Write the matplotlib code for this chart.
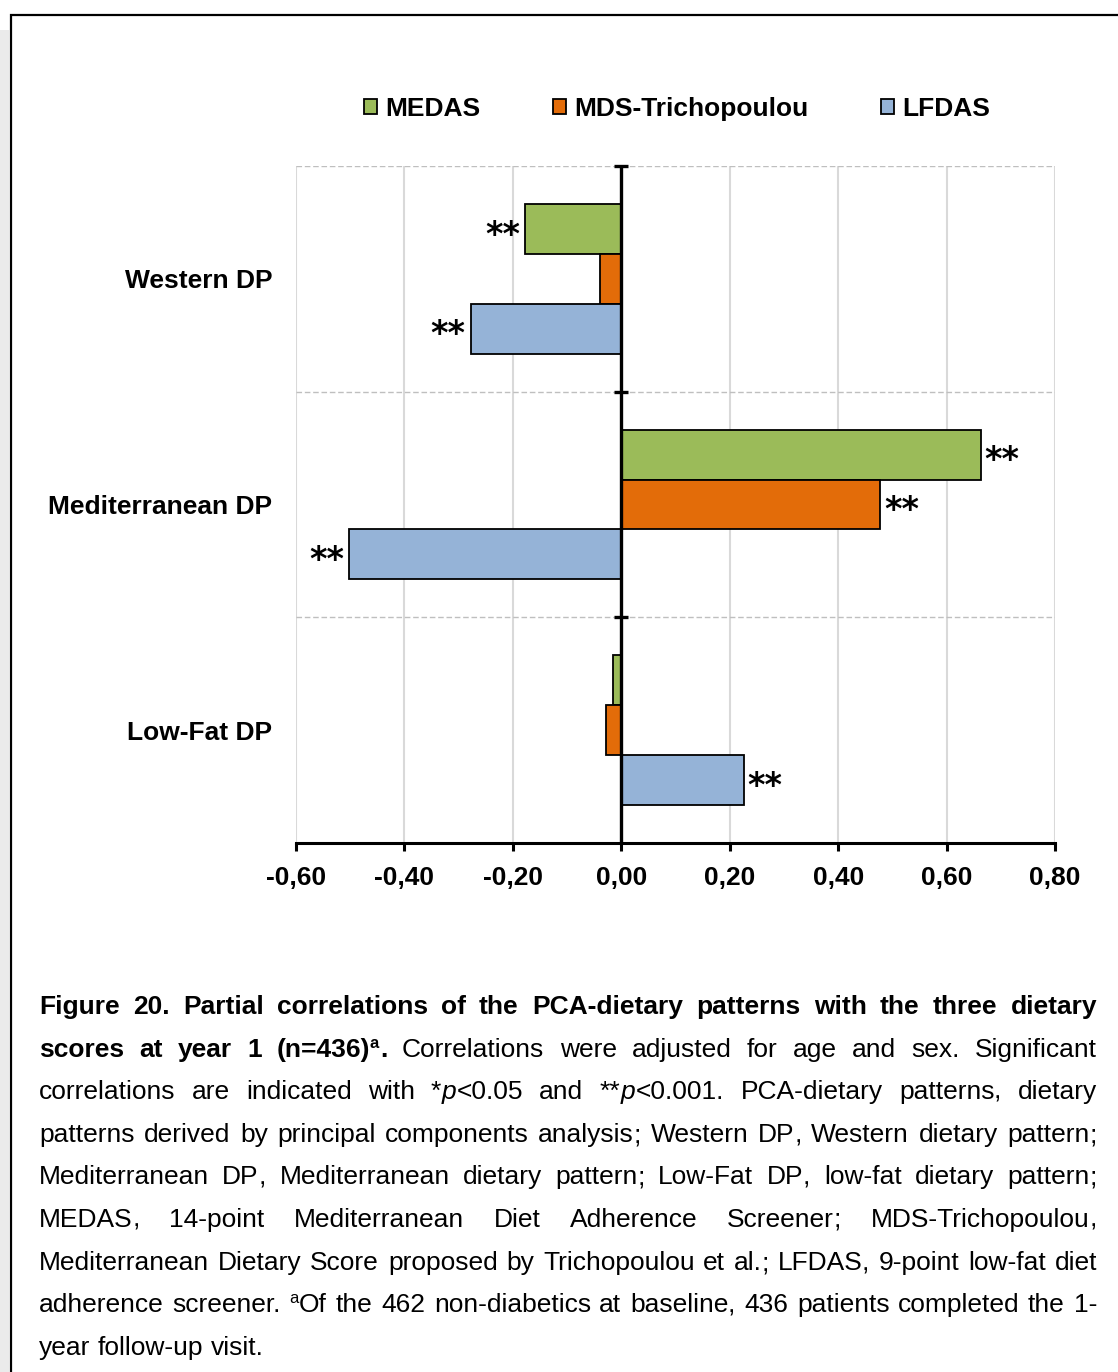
import re
import matplotlib
matplotlib.use("Agg")
import matplotlib.pyplot as plt
from matplotlib.patches import Rectangle
from matplotlib.ticker import FuncFormatter, FixedLocator
from matplotlib.font_manager import FontProperties
import numpy as np

plt.rcParams['font.family'] = ['Liberation Sans', 'DejaVu Sans']
plt.rcParams['axes.unicode_minus'] = False

# ---- data -------------------------------------------------------------
categories = ['Western DP', 'Mediterranean DP', 'Low-Fat DP']
series_names = ['MEDAS', 'MDS-Trichopoulou', 'LFDAS']
medas = [-0.177, 0.664, -0.016]
mds_trichopoulou = [-0.039, 0.478, -0.029]
lfdas = [-0.278, -0.502, 0.226]
sig_medas = ['**', '**', '']
sig_mds = ['', '**', '']
sig_lfdas = ['**', '**', '**']
x_ticks = [-0.6, -0.4, -0.2, 0.0, 0.2, 0.4, 0.6, 0.8]

colors = ['#9BBB59', '#E36C09', '#95B3D7']

# caption: (words, number of leading bold words, justified)
caption_lines = [
    ("Figure 20. Partial correlations of the PCA-dietary patterns with the three dietary", 99, True),
    ("scores at year 1 (n=436)^a. Correlations were adjusted for age and sex. Significant", 5, True),
    ("correlations are indicated with *_p_<0.05 and **_p_<0.001. PCA-dietary patterns, dietary", 0, True),
    ("patterns derived by principal components analysis; Western DP, Western dietary pattern;", 0, True),
    ("Mediterranean DP, Mediterranean dietary pattern; Low-Fat DP, low-fat dietary pattern;", 0, True),
    ("MEDAS, 14-point Mediterranean Diet Adherence Screener; MDS-Trichopoulou,", 0, True),
    ("Mediterranean Dietary Score proposed by Trichopoulou et al.; LFDAS, 9-point low-fat diet", 0, True),
    ("adherence screener. ^aOf the 462 non-diabetics at baseline, 436 patients completed the 1-", 0, True),
    ("year follow-up visit.", 0, False),
]

# ---- figure -----------------------------------------------------------
W, H = 1118, 1372
fig = plt.figure(figsize=(W / 100, H / 100), dpi=100)
fig.patch.set_facecolor('white')

def fx(px):
    return px / W

def fy(py):
    return 1 - py / H

# page strip and frame
fig.patches.append(Rectangle((0, 0), fx(9), fy(30), transform=fig.transFigure,
                             facecolor='#ebebeb', edgecolor='none', zorder=0))
fig.patches.append(Rectangle((fx(11), -0.1), 2, fy(14.5) + 0.1, transform=fig.transFigure,
                             facecolor='none', edgecolor='black', linewidth=1.6, zorder=1))

ax = fig.add_axes([fx(296), fy(843), fx(1055) - fx(296), fy(166) - fy(843)])
ax.set_facecolor('none')

y = np.arange(len(categories))
h = 0.221
offsets = [-h, 0.0, h]
all_vals = [medas, mds_trichopoulou, lfdas]
all_sig = [sig_medas, sig_mds, sig_lfdas]
containers = []
for vals, off, col, name in zip(all_vals, offsets, colors, series_names):
    bc = ax.barh(y + off, vals, height=h, color=col, edgecolor='black',
                 linewidth=1.3, label=name, zorder=3)
    containers.append(bc)

# significance marks
ast_fs = 24
for vals, sigs, off in zip(all_vals, all_sig, offsets):
    for yi, v, s in zip(y, vals, sigs):
        if not s:
            continue
        dx = 2.5 if v >= 0 else -3.5
        ax.annotate(s, xy=(v, yi + off), xytext=(dx, -0.56 * ast_fs + 2.2),
                    textcoords='offset points', ha='left' if v >= 0 else 'right',
                    va='baseline', fontsize=ast_fs, fontweight='bold',
                    family='DejaVu Sans', zorder=5)

ax.set_xlim(-0.6, 0.8)
ax.set_ylim(2.5, -0.5)

# x axis
ax.xaxis.set_major_locator(FixedLocator(x_ticks))
ax.xaxis.set_major_formatter(FuncFormatter(lambda v, p: f"{v:.2f}".replace('.', ',')))
ax.tick_params(axis='x', direction='out', length=6, width=2.2, pad=10.5,
               labelsize=19, colors='black')
for lab in ax.get_xticklabels():
    lab.set_fontweight('bold')
ax.spines['bottom'].set_linewidth(2.2)
ax.spines['bottom'].set_zorder(6)
for side in ['top', 'right', 'left']:
    ax.spines[side].set_visible(False)

# y axis: category labels on the left, boundaries as minor ticks
ax.set_yticks(y)
ax.set_yticklabels(categories, fontsize=19, fontweight='bold')
ax.yaxis.set_minor_locator(FixedLocator([-0.5, 0.5, 1.5]))
ax.tick_params(axis='y', which='both', length=0, pad=17)

# grid
ax.grid(axis='x', which='major', color='#d9d9d9', linewidth=1.5, zorder=0)
ax.grid(axis='y', which='minor', color='#bfbfbf', linewidth=1.0,
        linestyle=(0, (4, 2)), zorder=0)
ax.grid(axis='y', which='major', visible=False)
ax.set_axisbelow(True)

# zero line with crossing ticks at category boundaries
ax.axvline(0, color='black', linewidth=2.4, zorder=4)
ax.plot([0, 0, 0], [-0.5, 0.5, 1.5], linestyle='none', marker='_',
        markersize=10, markeredgewidth=2.4, color='black', zorder=4, clip_on=False)

# legend
fig.legend(handles=containers, labels=series_names, loc='center',
           bbox_to_anchor=(fx(677), fy(109)), ncol=3, frameon=False,
           prop={'size': 19, 'weight': 'bold'}, handlelength=0.5,
           handleheight=0.5, handletextpad=0.3, columnspacing=2.75)

# ---- caption (justified, word by word) ---------------------------------
renderer = fig.canvas.get_renderer()
cap_fs = 19
sup_fs = 12
left_px, right_px = 39, 1097
line_y0, line_step = 1005, 42.6

def split_word(word, bold):
    segs = []
    for part in re.split(r'(\^\w|_\w+_)', word):
        if not part:
            continue
        if part.startswith('^'):
            segs.append((part[1:], 'sup', bold))
        elif len(part) > 2 and part.startswith('_') and part.endswith('_'):
            segs.append((part[1:-1], 'it', bold))
        else:
            # trailing comma / semicolon drawn on its own so the word keeps
            # the same baseline as its neighbours
            m = re.match(r'^(.*?)([,;]+)$', part)
            if m and m.group(1):
                segs.append((m.group(1), 'norm', bold))
                segs.append((m.group(2), 'punct', bold))
            else:
                segs.append((part, 'norm', bold))
    return segs

def make_seg(text, kind, bold):
    fp = FontProperties(size=sup_fs if kind == 'sup' else cap_fs,
                        weight='bold' if bold else 'normal',
                        style='italic' if kind == 'it' else 'normal',
                        family=['Liberation Sans', 'DejaVu Sans'])
    t = fig.text(0, 0, text, fontproperties=fp, va='baseline', ha='left', color='black')
    w = t.get_window_extent(renderer).width
    return t, w, kind

space_t = fig.text(0, 0, 'a a', fontsize=cap_fs)
a_t = fig.text(0, 0, 'aa', fontsize=cap_fs)
space_w = space_t.get_window_extent(renderer).width - a_t.get_window_extent(renderer).width
space_t.remove()
a_t.remove()

def seg_gap(kind):
    return {'sup': -1.0, 'punct': 0.0}.get(kind, 0.5)

for li, (line, nbold, justify) in enumerate(caption_lines):
    words = line.split()
    built = []
    for wi, wd in enumerate(words):
        segs = [make_seg(*s) for s in split_word(wd, wi < nbold)]
        width = segs[0][1]
        for t, w, kind in segs[1:]:
            width += seg_gap(kind) + w
        built.append((segs, width))
    total = sum(b[1] for b in built)
    if justify and len(built) > 1:
        gap = (right_px - left_px - total) / (len(built) - 1)
    else:
        gap = space_w
    base = round(line_y0 + li * line_step + 9)
    x = left_px
    for segs, width in built:
        xs = x
        for k, (t, w, kind) in enumerate(segs):
            if k > 0:
                xs += seg_gap(kind)
            yy = base - 9 if kind == 'sup' else base
            t.set_position((fx(round(xs)), fy(yy)))
            xs += w
        x += width + gap

fig.savefig('out.png', dpi=100)
